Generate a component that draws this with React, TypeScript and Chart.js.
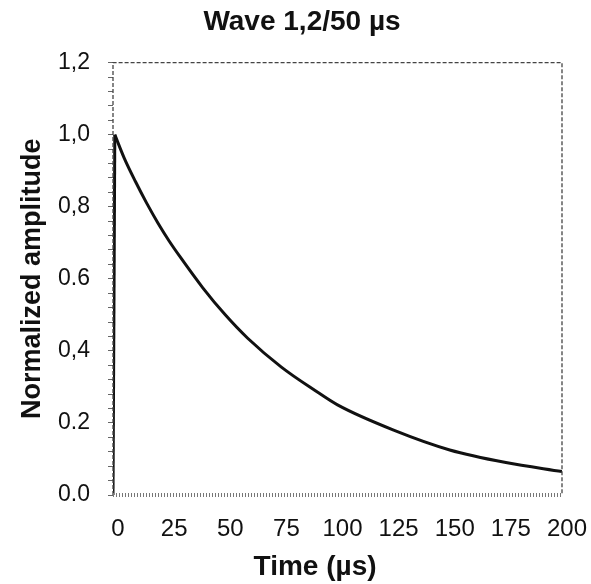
import React, { useEffect, useRef } from "react";
import { Chart, registerables } from "chart.js";

Chart.register(...registerables);

const titleText = "Wave 1,2/50 µs";
const xAxisTitle = "Time (µs)";
const yAxisTitle = "Normalized amplitude";

// fast front (µs, normalized amplitude)
const riseTimes = [0, 0.8];
const riseAmplitudes = [0, 1.0];
// tail of the wave
const tailTimes = [0.8, 5, 10, 15, 20, 25, 30, 40, 50, 60, 75, 90, 100, 125, 150, 175, 200];
const tailAmplitudes = [1.0, 0.935, 0.87, 0.81, 0.755, 0.705, 0.66, 0.575, 0.5, 0.435, 0.355, 0.29, 0.25, 0.18, 0.125, 0.09, 0.065];

const xTickValues = [0, 25, 50, 75, 100, 125, 150, 175, 200];
const yTickValues = [0, 0.2, 0.4, 0.6, 0.8, 1.0, 1.2];
const yTickLabels = ["0.0", "0.2", "0,4", "0.6", "0,8", "1,0", "1,2"];

const FONT = "'Liberation Sans', Arial, sans-serif";

const framePlugin = {
  id: "frame",
  afterDatasetsDraw(chart: any) {
    const { ctx, chartArea } = chart;
    const { left, right, top, bottom } = chartArea;
    ctx.save();
    ctx.strokeStyle = "#444";
    ctx.lineWidth = 1.3;
    ctx.setLineDash([4, 2]);
    ctx.beginPath();
    ctx.moveTo(left, bottom);
    ctx.lineTo(left, top);
    ctx.lineTo(right, top);
    ctx.lineTo(right, bottom);
    ctx.stroke();
    // hatched bottom axis
    ctx.setLineDash([1, 2]);
    ctx.lineWidth = 4;
    ctx.strokeStyle = "#777";
    ctx.beginPath();
    ctx.moveTo(left, bottom);
    ctx.lineTo(right, bottom);
    ctx.stroke();
    ctx.restore();
  },
  afterDraw(chart: any) {
    const { ctx, chartArea } = chart;
    ctx.save();
    ctx.fillStyle = "#111";
    ctx.font = `bold 28px ${FONT}`;
    ctx.textAlign = "center";
    ctx.textBaseline = "middle";
    // x-axis title sits slightly left of the plot centre in the original
    ctx.fillText(xAxisTitle, chartArea.left + (chartArea.right - chartArea.left) * 0.45, 567);
    ctx.restore();
  },
};

export default function App() {
  const canvasRef = useRef<HTMLCanvasElement | null>(null);

  useEffect(() => {
    if (!canvasRef.current) return;
    const chart = new Chart(canvasRef.current, {
      type: "line",
      data: {
        datasets: [
          {
            data: riseTimes.map((t, i) => ({ x: t, y: riseAmplitudes[i] })),
            borderColor: "#111",
            borderWidth: 3,
            pointRadius: 0,
            tension: 0,
            fill: false,
          },
          {
            data: tailTimes.map((t, i) => ({ x: t, y: tailAmplitudes[i] })),
            borderColor: "#111",
            borderWidth: 3,
            pointRadius: 0,
            cubicInterpolationMode: "monotone",
            fill: false,
          },
        ],
      },
      options: {
        responsive: false,
        animation: false,
        layout: { padding: { left: 13, right: 0, top: 0, bottom: 0 } },
        plugins: {
          legend: { display: false },
          tooltip: { enabled: false },
          title: {
            display: true,
            text: titleText,
            color: "#111",
            font: { family: FONT, size: 28, weight: "bold" },
            padding: { top: 5, bottom: 24 },
          },
        },
        scales: {
          x: {
            type: "linear",
            min: 0,
            max: 200,
            afterBuildTicks: (scale: any) => {
              scale.ticks = xTickValues.map((v) => ({ value: v }));
            },
            afterFit: (scale: any) => {
              scale.height = 89;
              scale.paddingLeft = 0;
              scale.paddingRight = 29;
            },
            grid: { display: false, drawTicks: false },
            border: { display: false },
            ticks: {
              color: "#111",
              padding: 20,
              labelOffset: 5,
              autoSkip: false,
              maxRotation: 0,
              font: { family: FONT, size: 24 },
            },
            title: { display: false },
          },
          y: {
            type: "linear",
            min: 0,
            max: 1.2,
            afterFit: (scale: any) => {
              scale.width = 100;
            },
            grid: {
              drawOnChartArea: false,
              drawTicks: true,
              tickLength: 5,
              color: "#666",
            },
            border: { display: false },
            ticks: {
              stepSize: 0.04,
              autoSkip: false,
              color: "#111",
              padding: 18,
              font: { family: FONT, size: 23 },
              callback: (v: any) => {
                const idx = yTickValues.findIndex((m) => Math.abs(m - Number(v)) < 1e-6);
                return idx >= 0 ? yTickLabels[idx] : "";
              },
            },
            title: {
              display: true,
              text: yAxisTitle,
              color: "#111",
              font: { family: FONT, size: 27, weight: "bold" },
              padding: { top: 3, bottom: 0 },
            },
          },
        },
      },
      plugins: [framePlugin],
    } as any);
    return () => chart.destroy();
  }, []);

  return (
    <div style={{ position: "absolute", left: 0, top: 0, width: 591, height: 584 }}>
      <canvas ref={canvasRef} width={591} height={584} />
    </div>
  );
}
